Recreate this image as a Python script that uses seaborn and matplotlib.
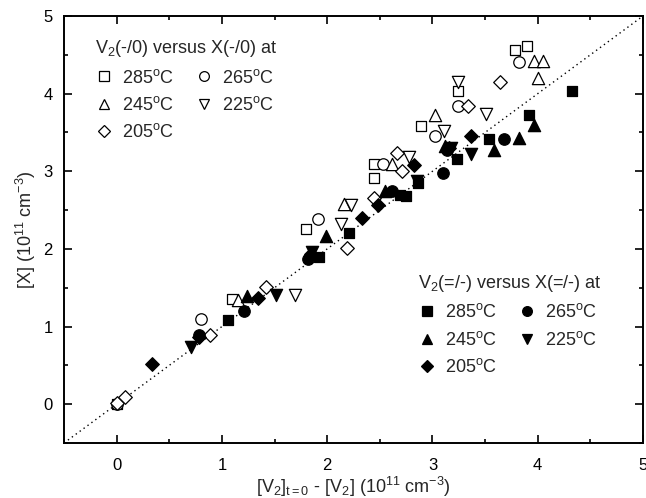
import numpy as np
import pandas as pd
import matplotlib
matplotlib.use("Agg")
import matplotlib.pyplot as plt
import seaborn as sns
from matplotlib.lines import Line2D

# ---------------- data ----------------
temps = ["285", "265", "245", "225", "205"]
markers = ["s", "o", "^", "v", "D"]

# open symbols: V2(-/0) versus X(-/0)
open_285_x = [0.00, 1.10, 1.80, 2.44, 2.44, 2.89, 3.24, 3.78, 3.90]
open_285_y = [0.00, 1.35, 2.26, 2.91, 3.09, 3.58, 4.03, 4.56, 4.62]
open_265_x = [0.00, 0.80, 1.91, 2.53, 3.02, 3.24, 3.82]
open_265_y = [0.00, 1.10, 2.38, 3.09, 3.45, 3.84, 4.41]
open_245_x = [1.15, 2.16, 2.62, 3.02, 3.96, 4.05, 4.00]
open_245_y = [1.34, 2.58, 3.10, 3.72, 4.42, 4.42, 4.20]
open_225_x = [1.69, 2.13, 2.23, 2.78, 3.11, 3.24, 3.51]
open_225_y = [1.40, 2.32, 2.56, 3.19, 3.52, 4.15, 3.74]
open_205_x = [0.00, 0.08, 0.89, 1.42, 2.19, 2.44, 2.66, 2.71, 3.34, 3.64]
open_205_y = [0.01, 0.09, 0.89, 1.51, 2.01, 2.66, 3.23, 3.00, 3.84, 4.15]

# filled symbols: V2(=/-) versus X(=/-)
fill_285_x = [1.06, 1.92, 2.21, 2.69, 2.75, 2.86, 3.23, 3.54, 3.92, 4.33]
fill_285_y = [1.08, 1.89, 2.21, 2.70, 2.68, 2.85, 3.16, 3.41, 3.72, 4.04]
fill_265_x = [0.78, 1.21, 1.82, 2.62, 3.10, 3.14, 3.68]
fill_265_y = [0.89, 1.20, 1.87, 2.75, 2.98, 3.28, 3.42]
fill_245_x = [1.24, 1.99, 2.55, 3.12, 3.58, 3.82, 3.96]
fill_245_y = [1.39, 2.16, 2.75, 3.33, 3.27, 3.43, 3.60]
fill_225_x = [0.71, 1.51, 1.86, 2.85, 3.18, 3.37]
fill_225_y = [0.74, 1.40, 1.96, 2.88, 3.30, 3.22]
fill_205_x = [0.34, 0.78, 1.34, 1.85, 2.33, 2.48, 2.82, 3.16, 3.37]
fill_205_y = [0.52, 0.86, 1.37, 1.94, 2.40, 2.57, 3.08, 3.30, 3.46]

open_sets = [(open_285_x, open_285_y), (open_265_x, open_265_y), (open_245_x, open_245_y),
             (open_225_x, open_225_y), (open_205_x, open_205_y)]
fill_sets = [(fill_285_x, fill_285_y), (fill_265_x, fill_265_y), (fill_245_x, fill_245_y),
             (fill_225_x, fill_225_y), (fill_205_x, fill_205_y)]

xticks = [0, 1, 2, 3, 4, 5]
yticks = [0, 1, 2, 3, 4, 5]

# ---------------- style ----------------
sns.set_theme(style="ticks")
plt.rcParams["font.family"] = ["Liberation Sans", "DejaVu Sans"]
plt.rcParams["mathtext.fontset"] = "custom"
plt.rcParams["mathtext.rm"] = "Liberation Sans"
plt.rcParams["mathtext.it"] = "Liberation Sans"
plt.rcParams["mathtext.bf"] = "Liberation Sans:bold"

fig = plt.figure(figsize=(6.46, 4.98), dpi=100)
ax = fig.add_axes([64 / 646, 1 - 443 / 498, 579 / 646, 427 / 498])

rows = []
for t, m, (xs, ys) in zip(temps, markers, open_sets):
    for a, b in zip(xs, ys):
        rows.append(dict(x=a, y=b, temp=t, marker=m, kind="open"))
for t, m, (xs, ys) in zip(temps, markers, fill_sets):
    for a, b in zip(xs, ys):
        rows.append(dict(x=a, y=b, temp=t, marker=m, kind="fill"))
df = pd.DataFrame(rows)

# identity line
ax.plot([-0.5, 5], [-0.5, 5], linestyle=(0, (1, 2.5)), color="black", lw=1.0, zorder=1)

sizes = {"s": 62, "o": 68, "^": 78, "v": 78, "D": 48}
for kind in ["open", "fill"]:
    for t, m in zip(temps, markers):
        sub = df[(df.kind == kind) & (df.temp == t)]
        sns.scatterplot(data=sub, x="x", y="y", marker=m, s=sizes[m], ax=ax,
                        facecolor=("white" if kind == "open" else "black"),
                        edgecolor="black", linewidth=0.9, zorder=3, legend=False)

ax.set_xlim(-0.5, 5)
ax.set_ylim(-0.5, 5)
ax.set_xticks(xticks)
ax.set_yticks(yticks)
ax.set_xticks(np.arange(-0.5, 5.01, 0.5), minor=True)
ax.set_yticks(np.arange(-0.5, 5.01, 0.5), minor=True)
ax.tick_params(which="both", direction="in", top=True, right=True, width=1.2, colors="black",
               labelsize=12)
ax.tick_params(axis="x", which="major", pad=11)
ax.tick_params(axis="y", which="major", pad=8)
ax.tick_params(which="major", length=6)
ax.tick_params(which="minor", length=3)
for sp in ax.spines.values():
    sp.set_linewidth(1.4)
    sp.set_color("black")
    sp.set_visible(True)

ax.set_xlabel(r"[V$_2$]$_{\mathrm{t=0}}$ - [V$_2$] (10$^{11}$ cm$^{-3}$)", fontsize=13, labelpad=1)
ax.set_ylabel(r"[X] (10$^{11}$ cm$^{-3}$)", fontsize=13, labelpad=4)

def make_handles(filled):
    hs = []
    for t, m in zip(temps, markers):
        hs.append(Line2D([], [], linestyle="none", marker=m, markersize=7 if m != "D" else 6,
                         markerfacecolor=("black" if filled else "white"),
                         markeredgecolor="black", markeredgewidth=0.9,
                         label=t + r"$^{\mathrm{o}}$C"))
    # order for 2-column filling: 285, 245, 205 | 265, 225
    order = [0, 2, 4, 1, 3]
    return [hs[i] for i in order]

leg_kw = dict(ncol=2, frameon=False, fontsize=13, title_fontsize=13, borderpad=0,
              handlelength=1.0, handletextpad=0.5, columnspacing=1.15, labelspacing=0.52,
              alignment="left", loc="upper left", borderaxespad=0)

leg1 = ax.legend(handles=make_handles(False), title=r"V$_2$(-/0) versus X(-/0) at",
                 bbox_to_anchor=(0.053, 0.948), **leg_kw)
ax.add_artist(leg1)
leg2 = ax.legend(handles=make_handles(True), title=r"V$_2$(=/-) versus X(=/-) at",
                 bbox_to_anchor=(0.611, 0.398), **leg_kw)

fig.savefig("out.png", dpi=100)
